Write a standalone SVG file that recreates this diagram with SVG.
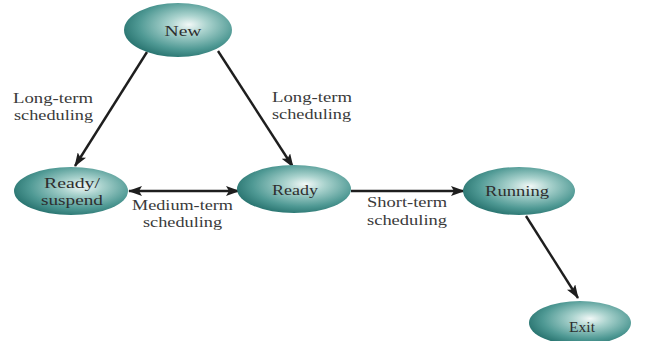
<svg xmlns="http://www.w3.org/2000/svg" width="657" height="341" viewBox="0 0 657 341">
<style>
.node ellipse{fill:url(#g);}
.nt{font-family:"Liberation Serif","Times New Roman",serif;font-size:15px;fill:#2e2e2e;text-anchor:middle;}
.lb{font-family:"Liberation Serif","Times New Roman",serif;font-size:14px;fill:#3a3a3a;}
.c{stroke:#1e1e1e;stroke-width:2.4;fill:none;}
</style>
<defs>
<radialGradient id="g" cx="58%" cy="42%" r="60%" fx="60%" fy="40%">
<stop offset="0" stop-color="#f2f8f7"/>
<stop offset="0.3" stop-color="#a9d2cd"/>
<stop offset="0.75" stop-color="#4f9994"/>
<stop offset="1" stop-color="#2c7773"/>
</radialGradient>
<marker id="ah" viewBox="0 0 14 10" refX="13" refY="5" markerWidth="14" markerHeight="10" markerUnits="userSpaceOnUse" orient="auto-start-reverse">
<path d="M0,0 L14,5 L0,10 L3,5 Z" fill="#1e1e1e"/>
</marker>
</defs>
<g id="connectors">
<line class="c" x1="147" y1="52" x2="75" y2="166" marker-end="url(#ah)"/>
<line class="c" x1="218" y1="51" x2="293" y2="167" marker-end="url(#ah)"/>
<line class="c" x1="129" y1="191" x2="239" y2="191" marker-start="url(#ah)" marker-end="url(#ah)"/>
<line class="c" x1="351" y1="191" x2="464" y2="191" marker-end="url(#ah)"/>
<line class="c" x1="526" y1="216" x2="578" y2="298" marker-end="url(#ah)"/>
</g>
<g id="lbl-lt1"><text class="lb" x="13" y="103" textLength="80" lengthAdjust="spacingAndGlyphs">Long-term</text><text class="lb" x="14" y="120" textLength="79" lengthAdjust="spacingAndGlyphs">scheduling</text></g>
<g id="lbl-lt2"><text class="lb" x="272" y="102" textLength="80" lengthAdjust="spacingAndGlyphs">Long-term</text><text class="lb" x="272" y="119" textLength="79" lengthAdjust="spacingAndGlyphs">scheduling</text></g>
<g id="lbl-mt"><text class="lb" x="132" y="210" textLength="101" lengthAdjust="spacingAndGlyphs">Medium-term</text><text class="lb" x="143" y="227" textLength="79" lengthAdjust="spacingAndGlyphs">scheduling</text></g>
<g id="lbl-st"><text class="lb" x="367" y="207" textLength="80" lengthAdjust="spacingAndGlyphs">Short-term</text><text class="lb" x="367" y="225" textLength="80" lengthAdjust="spacingAndGlyphs">scheduling</text></g>
<g id="new" class="node"><ellipse cx="178" cy="30" rx="54" ry="27"/><text class="nt" x="183" y="36" textLength="37" lengthAdjust="spacingAndGlyphs">New</text></g>
<g id="ready-suspend" class="node"><ellipse cx="71" cy="191" rx="57" ry="24"/><text class="nt" x="72" y="188" textLength="56" lengthAdjust="spacingAndGlyphs">Ready/</text><text class="nt" x="72" y="205" textLength="62" lengthAdjust="spacingAndGlyphs">suspend</text></g>
<g id="ready" class="node"><ellipse cx="294" cy="189" rx="57" ry="24"/><text class="nt" x="295" y="195" textLength="46" lengthAdjust="spacingAndGlyphs">Ready</text></g>
<g id="running" class="node"><ellipse cx="519" cy="191" rx="56" ry="24"/><text class="nt" x="517" y="196" textLength="64" lengthAdjust="spacingAndGlyphs">Running</text></g>
<g id="exit" class="node"><ellipse cx="580" cy="323" rx="51" ry="22"/><text class="nt" x="582" y="332" textLength="26" lengthAdjust="spacingAndGlyphs">Exit</text></g>
</svg>
